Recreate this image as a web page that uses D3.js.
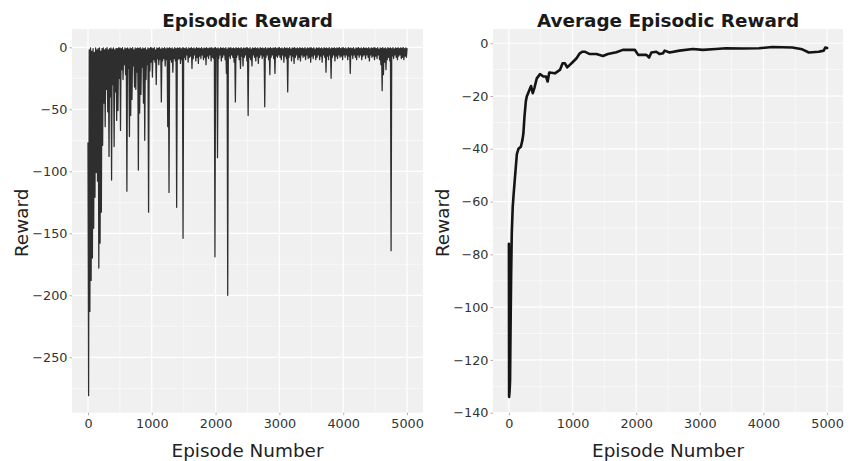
<!DOCTYPE html>
<html><head><meta charset="utf-8">
<script src="https://cdn.jsdelivr.net/npm/d3@7"></script>
<style>body{margin:0;background:#fff;} svg{display:block;font-family:"DejaVu Sans",sans-serif;}</style>
</head><body><svg id="chart" width="854" height="461"></svg>
<script>
// ---------- data ----------
const xTicks = [0, 1000, 2000, 3000, 4000, 5000];
const xMinorTicks = [500, 1500, 2500, 3500, 4500];
const rewardTicks = [0, -50, -100, -150, -200, -250];
const rewardMinorTicks = [-25, -75, -125, -175, -225, -275];
const avgTicks = [0, -20, -40, -60, -80, -100, -120, -140];
const avgMinorTicks = [-10, -30, -50, -70, -90, -110, -130];

// episodic reward, one value every 10 episodes
const rewards0 = [-77,-281,-2,-213,-0.5,-188,-3,-170,-1,-146,-4,-121,-0.5,-101,-2,-108,-1,-178,-0.5,-158,-3,-133,-1,-79,-0.5,-45,-2,-64,-1,-34,-0.3,-52,-2,-88,-1,-40,-0.5,-107,-1.5,-30,-0.5,-80,-2,-36,-0.8,-59,-1,-51,-0.5,-25];
const rewards1 = [-0.5,-67,-1,-18,-0.3,-26,-2,-14,-0.5,-22,-1,-116,-0.4,-17,-1.5,-72,-0.5,-55,-1,-42,-0.3,-15,-2,-32,-0.5,-34,-1,-20,-0.5,-99,-0.8,-53,-0.3,-38,-1.5,-16,-0.5,-45,-1,-75,-0.4,-26,-2,-14,-0.5,-133,-1,-19,-0.3,-12];
const rewards2 = [-0.5,-24,-1,-10,-0.3,-12,-2,-30,-0.5,-9,-0.8,-14,-0.2,-10,-1.5,-44,-0.5,-11,-1,-9,-0.3,-15,-1.2,-10,-0.4,-64,-0.8,-117,-0.3,-10,-1,-12,-0.5,-20,-1.5,-9,-0.2,-11,-1,-129,-0.5,-10,-0.8,-9,-0.3,-13,-1.2,-10,-0.5,-154];
const rewards3 = [-0.5,-8,-1,-10,-0.3,-6,-1.5,-12,-0.5,-8,-0.8,-7,-0.2,-17,-1,-9,-0.4,-6,-1.2,-11,-0.3,-8,-0.8,-13,-0.5,-7,-1,-9,-0.2,-6,-1.3,-10,-0.5,-8,-0.8,-14,-0.3,-7,-1,-9,-0.5,-6,-0.7,-11,-0.2,-8,-1.1,-9,-0.4,-169];
const rewards4 = [-0.3,-7,-1,-89,-0.5,-9,-1.2,-6,-0.2,-11,-0.8,-8,-0.5,-6,-1,-10,-0.3,-21,-1.4,-200,-0.5,-7,-0.7,-9,-0.2,-6,-1,-8,-0.4,-12,-1.1,-44,-0.3,-8,-0.8,-6,-0.5,-10,-1,-17,-0.2,-7,-1.2,-15,-0.4,-8,-0.9,-6,-0.3,-11];
const rewards5 = [-0.5,-55,-1,-8,-0.3,-10,-1.5,-15,-0.5,-6,-0.8,-8,-0.2,-11,-1,-7,-0.4,-13,-1.2,-8,-0.3,-6,-0.8,-9,-0.5,-7,-1,-48,-0.2,-8,-1.3,-6,-0.5,-10,-0.8,-22,-0.3,-8,-1,-6,-0.5,-9,-0.7,-21,-0.2,-7,-1.1,-8,-0.4,-6];
const rewards6 = [-0.3,-8,-1,-10,-0.5,-6,-1.2,-12,-0.2,-7,-0.8,-9,-0.5,-36,-1,-8,-0.3,-6,-1.4,-11,-0.5,-7,-0.7,-13,-0.2,-8,-1,-6,-0.4,-10,-1.1,-8,-0.3,-11,-0.8,-6,-0.5,-8,-1,-7,-0.2,-10,-1.2,-6,-0.4,-9,-0.9,-8,-0.3,-12];
const rewards7 = [-0.5,-7,-1,-9,-0.3,-6,-1.5,-10,-0.5,-8,-0.8,-6,-0.2,-10,-1,-7,-0.4,-12,-1.2,-6,-0.3,-8,-0.8,-20,-0.5,-7,-1,-10,-0.2,-6,-1.3,-25,-0.5,-8,-0.8,-6,-0.3,-11,-1,-7,-0.5,-9,-0.7,-6,-0.2,-8,-1.1,-7,-0.4,-10];
const rewards8 = [-0.3,-6,-1,-8,-0.5,-6,-1.2,-10,-0.2,-7,-0.8,-21,-0.5,-6,-1,-9,-0.3,-6,-1.4,-8,-0.5,-10,-0.7,-6,-0.2,-8,-1,-6,-0.4,-10,-1.1,-7,-0.3,-6,-0.8,-9,-0.5,-6,-1,-8,-0.2,-11,-1.2,-6,-0.4,-8,-0.9,-7,-0.3,-10];
const rewards9 = [-0.5,-7,-1,-9,-0.3,-6,-1.5,-10,-0.5,-14,-0.8,-35,-0.2,-22,-1,-12,-0.4,-18,-1.2,-10,-0.3,-8,-0.8,-11,-0.5,-164,-1,-7,-0.2,-9,-1.3,-6,-0.5,-8,-0.8,-10,-0.3,-7,-1,-6,-0.5,-9,-0.7,-8,-0.2,-10,-1.1,-7,-0.4,-8];
const rewardsLast = [-1];

// average episodic reward, sampled where the curve bends
const avgEpisodes = [0,3,10,18,25,35,45,60,75,98,125,150,188,213,228,244,266,281,322,348,375,400,438,489,541,583,609,634,723,802,844,880,916,958,1009,1063,1114,1156,1192,1270,1375,1478,1556,1688,1791,1895,1978,2031,2161,2203,2239,2317,2369,2422,2447,2525,2681,2891,3047,3255,3411,3672,3931,4141,4453,4609,4713,4869,4947,4973,5000];
const avgRewards = [-76,-134,-132,-128,-110,-88,-72,-62,-57,-50,-42,-40,-39.2,-36.6,-34,-28,-22,-20.2,-17.7,-16.2,-18.9,-17,-13.3,-11.7,-12.6,-12.6,-14.5,-11.1,-11.4,-10.1,-7.6,-7.6,-9.1,-8.2,-7,-5.7,-3.8,-3.2,-3.2,-4.1,-4.1,-4.8,-4.1,-3.4,-2.5,-2.5,-2.5,-4.4,-4.4,-5.4,-3.5,-3.2,-4.1,-3.8,-2.8,-3.5,-2.8,-2.2,-2.5,-2.2,-1.9,-2.0,-1.9,-1.4,-1.6,-2.3,-3.5,-3.2,-2.8,-1.6,-1.8];

const rewards = [].concat(rewards0, rewards1, rewards2, rewards3, rewards4, rewards5, rewards6, rewards7, rewards8, rewards9, rewardsLast);
const episodes = d3.range(0, 5001, 10);
const rewardSeries = episodes.map((e, i) => [e, rewards[i]]);
const avgSeries = avgEpisodes.map((e, i) => [e, avgRewards[i]]);

// ---------- drawing ----------
const svg = d3.select("#chart");
const plotTop = 29, plotBottom = 412.7;

function panel(o) {
  const g = svg.append("g");
  const x = d3.scaleLinear().domain([-250, 5250]).range([o.left, o.right]);
  const y = d3.scaleLinear().domain(o.yDomain).range([plotBottom, plotTop]);

  g.append("rect").attr("x", o.left).attr("y", plotTop)
    .attr("width", o.right - o.left).attr("height", plotBottom - plotTop).attr("fill", "#f0f0f0");

  // minor grid
  g.selectAll(".vmin").data(xMinorTicks).join("line")
    .attr("x1", d => x(d)).attr("x2", d => x(d)).attr("y1", plotTop).attr("y2", plotBottom)
    .attr("stroke", "#fafafa").attr("stroke-width", 0.8);
  g.selectAll(".hmin").data(o.yMinor).join("line")
    .attr("y1", d => y(d)).attr("y2", d => y(d)).attr("x1", o.left).attr("x2", o.right)
    .attr("stroke", "#fafafa").attr("stroke-width", 0.8);
  // major grid
  g.selectAll(".vmaj").data(xTicks).join("line")
    .attr("x1", d => x(d)).attr("x2", d => x(d)).attr("y1", plotTop).attr("y2", plotBottom)
    .attr("stroke", "#ffffff").attr("stroke-width", 1.2);
  g.selectAll(".hmaj").data(o.yTicks).join("line")
    .attr("y1", d => y(d)).attr("y2", d => y(d)).attr("x1", o.left).attr("x2", o.right)
    .attr("stroke", "#ffffff").attr("stroke-width", 1.2);

  // axes
  const fmt = d3.format("d");
  const ya = g.append("g").attr("transform", `translate(${o.left},0)`)
    .call(d3.axisLeft(y).tickValues(o.yTicks).tickFormat(fmt).tickSize(2.5).tickPadding(2));
  const xa = g.append("g").attr("transform", `translate(0,${plotBottom})`)
    .call(d3.axisBottom(x).tickValues(xTicks).tickFormat(fmt).tickSize(2.5).tickPadding(3.5));
  [ya, xa].forEach(a => {
    a.select(".domain").remove();
    a.selectAll(".tick line").attr("stroke", "#b0b0b0");
    a.selectAll(".tick text").attr("fill", "#333").style("font-size", "12.8px")
      .style("font-family", '"DejaVu Sans", sans-serif');
  });

  // data line
  const line = d3.line().x(d => x(d[0])).y(d => y(d[1]));
  g.append("path").datum(o.series).attr("d", line).attr("fill", "none")
    .attr("stroke", o.color).attr("stroke-width", o.width)
    .attr("stroke-linejoin", "round").attr("stroke-linecap", "round");

  // texts
  const cx = (o.left + o.right) / 2;
  g.append("text").attr("x", cx).attr("y", 26.5).attr("text-anchor", "middle")
    .attr("fill", "#1a1a1a").style("font-size", "18.4px").style("font-weight", "bold").text(o.title);
  g.append("text").attr("x", cx).attr("y", 457).attr("text-anchor", "middle")
    .attr("fill", "#222").style("font-size", "18.4px").text("Episode Number");
  g.append("text").attr("transform", `translate(${o.yLabelX},${(plotTop + plotBottom) / 2 + 2}) rotate(-90)`)
    .attr("text-anchor", "middle").attr("fill", "#222").style("font-size", "18.4px").text("Reward");
}

panel({left: 72, right: 423, yDomain: [-294.7, 14.8], yTicks: rewardTicks, yMinor: rewardMinorTicks,
  title: "Episodic Reward", series: rewardSeries, color: "#2e2e2e", width: 1.25, yLabelX: 27.5});
panel({left: 493, right: 843, yDomain: [-140, 5.4], yTicks: avgTicks, yMinor: avgMinorTicks,
  title: "Average Episodic Reward", series: avgSeries, color: "#141414", width: 2.6, yLabelX: 448.5});
</script></body></html>
